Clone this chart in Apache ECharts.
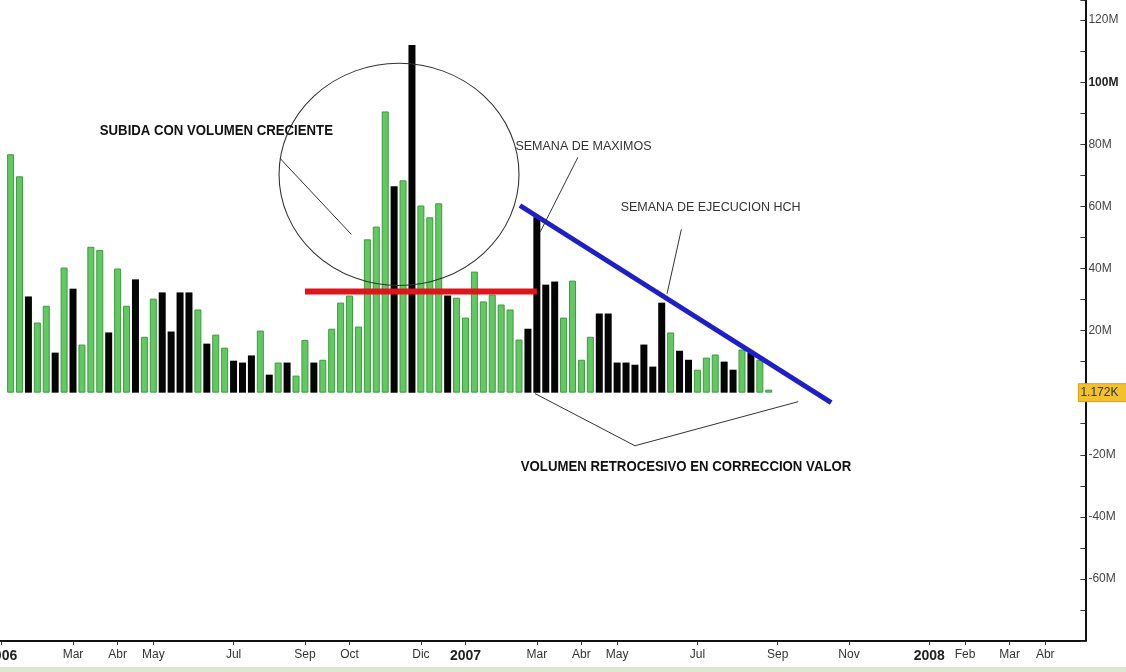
<!DOCTYPE html>
<html>
<head>
<meta charset="utf-8">
<script src="https://cdn.jsdelivr.net/npm/echarts@6/dist/echarts.min.js"></script>
<style>
html,body{margin:0;padding:0;background:#fff;}
#c{width:1126px;height:672px;}
</style>
</head>
<body>
<div id="c"></div>
<script>
// ---- data (weekly volume, millions) ----
const firstWeek = '2006-01-06';      // Friday of first category week
const weekCount = 122;               // weeks shown on the axis
const firstBarIndex = 1;             // first week that has a bar
const volumes = [76.8, 69.7, 31, 22.6, 28, 12.9, 40.3, 33.5, 15.5, 47,
  46, 19.4, 40, 28, 36.5, 18, 30.3, 32.3, 19.7, 32.3,
  32.3, 26.8, 15.8, 18.7, 14.5, 10.3, 9.7, 12, 20, 5.8,
  9.7, 9.7, 5.5, 17, 9.7, 10.6, 20.6, 29, 31.3, 21.3,
  49.4, 53.5, 90.6, 66.5, 68.4, 112, 60.3, 56.5, 61, 31.3,
  30.6, 24.2, 39, 29.4, 31.6, 28.4, 26.8, 17.1, 20.6, 56.5,
  34.8, 35.8, 24.2, 36.1, 10.6, 18, 25.5, 25.5, 9.7, 9.7,
  9, 15.5, 8.4, 29, 19.4, 13.5, 10.6, 7.4, 11.3, 12.3,
  10, 7.4, 13.9, 12.9, 10.6, 0.001172];
// 1 = up week (green), 0 = down week (black)
const upWeek = [1,1,0,1,1,0,1,0,1,1, 1,0,1,1,0,1,1,0,0,0, 0,1,0,1,1,0,0,0,1,0,
  1,0,1,1,0,1,1,1,1,1, 1,1,1,0,1,0,1,1,1,0, 1,1,1,1,1,1,1,1,0,0,
  0,0,1,1,1,1,0,0,0,0, 0,0,0,0,1,0,0,1,1,1, 0,0,1,0,1,1];
const shownMonths = ['2006-01','2006-03','2006-04','2006-05','2006-07','2006-09','2006-10','2006-12',
  '2007-01','2007-03','2007-04','2007-05','2007-07','2007-09','2007-11',
  '2008-01','2008-02','2008-03','2008-04'];
const monthNames = ['Ene','Feb','Mar','Abr','May','Jun','Jul','Ago','Sep','Oct','Nov','Dic'];
const yTicks = { min: -80, max: 126.5, interval: 20 };

// annotations in data space: [week index, value in M]
const redLine = [[34, 32.6], [60, 32.6]];
const blueLine = [[58.1, 60.3], [93, -3.2]];
const pointerUp = [[31.2, 75.5], [39.2, 51.0]];
const pointerMax = [[64.6, 75.8], [60.35, 51.6]];
const pointerHch = [[76.2, 52.6], [74.6, 31.9]];
const pointerV = [[59.8, -0.3], [71.0, -17.1], [89.3, -2.9]];
const ellipse = { cx: 44.55, cy: 70.3, rx: 13.45, ry: 35.8 };
const notes = [
  { text: 'SUBIDA CON VOLUMEN CRECIENTE', at: [11.0, 84.2], bold: true },
  { text: 'SEMANA DE MAXIMOS', at: [57.6, 79.4], bold: false },
  { text: 'SEMANA DE EJECUCION HCH', at: [69.4, 59.7], bold: false },
  { text: 'VOLUMEN RETROCESIVO EN CORRECCION VALOR', at: [58.2, -23.9], bold: true }
];

// ---- build categories ----
const categories = [];
const t0 = Date.parse(firstWeek + 'T00:00:00Z');
for (let i = 0; i < weekCount; i++) {
  categories.push(new Date(t0 + i * 7 * 86400000).toISOString().slice(0, 10));
}
function isShown(v) {
  return +v.slice(8, 10) <= 7 && shownMonths.indexOf(v.slice(0, 7)) >= 0;
}
const barData = categories.map((c, i) => {
  const k = i - firstBarIndex;
  if (k < 0 || k >= volumes.length) return null;
  const up = upWeek[k] === 1;
  return {
    value: volumes[k],
    itemStyle: up ? { color: '#62c862', borderColor: '#3f9a3f', borderWidth: 1 }
                  : { color: '#050505', borderColor: '#000', borderWidth: 0 }
  };
});

function lineSeries(pts, color, width) {
  return {
    type: 'line', xAxisIndex: 1, yAxisIndex: 0, data: pts, symbol: 'none', silent: true,
    lineStyle: { color: color, width: width }, z: 5, animation: false
  };
}

const chart = echarts.init(document.getElementById('c'), null, { renderer: 'canvas' });
chart.setOption({
  animation: false,
  backgroundColor: '#ffffff',
  grid: { left: -2.8, right: 40.6, top: 0, bottom: 31, containLabel: false, outerBoundsMode: 'none' },
  xAxis: [{
    type: 'category', data: categories, boundaryGap: true,
    axisLine: { show: true, onZero: false, lineStyle: { color: '#111', width: 2 } },
    axisTick: { show: true, alignWithLabel: true, interval: (i, v) => isShown(v), length: 4, lineStyle: { color: '#333' } },
    axisLabel: {
      interval: (i, v) => isShown(v), margin: 8, hideOverlap: false,
      formatter: v => {
        const m = +v.slice(5, 7);
        return m === 1 ? '{y|' + v.slice(0, 4) + '}' : '{m|' + monthNames[m - 1] + '}';
      },
      rich: {
        y: { fontFamily: 'Liberation Sans, Arial', fontWeight: 'bold', fontSize: 14, color: '#222' },
        m: { fontFamily: 'Liberation Sans, Arial', fontSize: 12, color: '#333' }
      }
    },
    splitLine: { show: false }
  }, {
    type: 'value', min: -0.5, max: weekCount - 0.5, show: false,
    axisLine: { onZero: false }
  }],
  yAxis: [{
    type: 'value', position: 'right', min: yTicks.min, max: yTicks.max, interval: yTicks.interval,
    axisLine: { show: true, onZero: false, lineStyle: { color: '#111', width: 2 } },
    axisTick: { show: true, inside: true, length: 5, lineStyle: { color: '#333' } },
    minorTick: { show: true, splitNumber: 2, length: 5, lineStyle: { color: '#333' } },
    splitLine: { show: false },
    axisLabel: {
      showMinLabel: false, showMaxLabel: false, margin: 3,
      formatter: v => v === 0 ? '' : (v === 100 ? '{b|100M}' : '{n|' + v + 'M}'),
      rich: {
        b: { fontFamily: 'Liberation Sans, Arial', fontWeight: 'bold', fontSize: 12, color: '#222' },
        n: { fontFamily: 'Liberation Sans, Arial', fontSize: 12, color: '#444' }
      }
    }
  }],
  series: [
    { type: 'bar', xAxisIndex: 0, yAxisIndex: 0, data: barData, barWidth: 7, barMinHeight: 3, z: 2 },
    lineSeries(redLine, '#e3121b', 6),
    lineSeries(blueLine, '#1f1fc8', 5),
    lineSeries(pointerUp, '#333', 1),
    lineSeries(pointerMax, '#333', 1),
    lineSeries(pointerHch, '#333', 1),
    lineSeries(pointerV, '#333', 1)
  ]
});

// ---- decorations placed through the chart's own scales ----
const px = p => chart.convertToPixel({ xAxisIndex: 1, yAxisIndex: 0 }, p);
const c0 = px([ellipse.cx, ellipse.cy]);
const cx1 = px([ellipse.cx + ellipse.rx, ellipse.cy]);
const cy1 = px([ellipse.cx, ellipse.cy + ellipse.ry]);
const rxPx = cx1[0] - c0[0], ryPx = c0[1] - cy1[1];
const graphics = [{
  type: 'circle', shape: { cx: 0, cy: 0, r: ryPx }, x: c0[0], y: c0[1],
  scaleX: rxPx / ryPx, scaleY: 1, silent: true, z: 10,
  style: { fill: 'none', stroke: '#333', lineWidth: 1, strokeNoScale: true }
}];
notes.forEach(n => {
  const p = px(n.at);
  graphics.push({
    type: 'text', x: p[0], y: p[1], silent: true, z: 11,
    scaleX: n.bold ? 0.88 : 1,
    style: {
      text: n.text, fill: n.bold ? '#111' : '#333', textVerticalAlign: 'middle', textAlign: 'left',
      font: n.bold ? 'bold 15px "Liberation Sans", Arial' : '12.5px "Liberation Sans", Arial'
    }
  });
});
const lastVol = volumes[volumes.length - 1];
const lp = px([weekCount - 0.5, lastVol]);
graphics.push({
  type: 'rect', shape: { x: lp[0] - 7, y: lp[1] - 9, width: 60, height: 18 }, z: 12, silent: true,
  style: { fill: '#f2c12e', stroke: '#d9a400', lineWidth: 1 }
});
graphics.push({
  type: 'text', x: lp[0] - 5, y: lp[1], z: 13, silent: true,
  style: { text: (lastVol * 1000).toFixed(3) + 'K', fill: '#333', textVerticalAlign: 'middle', font: '12px "Liberation Sans", Arial' }
});
graphics.push({
  type: 'rect', shape: { x: 0, y: 667, width: 1126, height: 5 }, z: 0, silent: true,
  style: { fill: '#dce8d2' }
});
chart.setOption({ graphic: graphics });
</script>
</body>
</html>
